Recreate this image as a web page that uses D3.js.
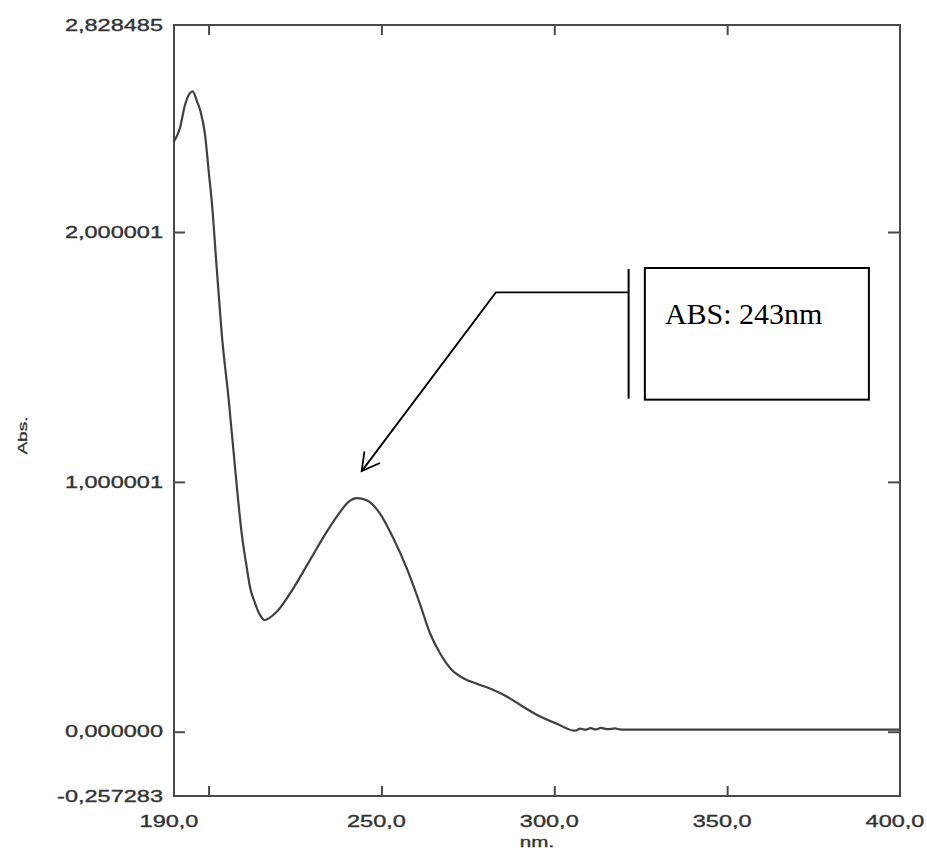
<!DOCTYPE html>
<html>
<head>
<meta charset="utf-8">
<script src="https://cdn.jsdelivr.net/npm/d3@7"></script>
<style>
  body { margin: 0; background: #fff; }
  svg { display: block; }
</style>
</head>
<body>
<div id="chart"></div>
<script>
// Data //
const wavelength = [190.0, 191.7, 193.2, 195.4, 196.65, 197.67, 198.97, 200.12, 200.91, 202.35, 203.8,
    205.85, 207.65, 209.58, 211.03, 211.98, 213.43, 214.88, 216.12, 219.71, 224.51, 229.34, 234.17,
    238.02, 240.42, 242.85, 245.74, 249.59, 253.44, 257.31, 261.16, 264.05, 266.94, 270.33, 273.68,
    277.56, 281.9, 286.24, 290.09, 294.92, 300.7, 306.0, 307.5, 309.0, 310.5, 312.0, 313.5, 315.5,
    317.5, 319.0, 320.0, 400.0];
const absorbance = [2.363, 2.415, 2.51, 2.563, 2.523, 2.483, 2.391, 2.231, 2.124, 1.857, 1.593,
    1.325, 1.058, 0.794, 0.659, 0.579, 0.515, 0.467, 0.447, 0.48, 0.574, 0.687, 0.8,
    0.879, 0.919, 0.935, 0.926, 0.873, 0.774, 0.655, 0.511, 0.394, 0.314, 0.248, 0.214,
    0.192, 0.17, 0.141, 0.108, 0.068, 0.032, 0.004, 0.012, 0.008, 0.014, 0.009, 0.015, 0.01,
    0.013, 0.009, 0.008, 0.008];

const xLabelValues = [190, 250, 300, 350, 400];
const xLabels = ["190,0", "250,0", "300,0", "350,0", "400,0"];
const xTickMarks = [200, 250, 300, 350];

const yLabelValues = [2.828485, 2.000001, 1.000001, 0.0, -0.257283];
const yLabels = ["2,828485", "2,000001", "1,000001", "0,000000", "-0,257283"];
const yTickMarks = [0.0, 1.000001, 2.000001];

// annotation callout, in data units (nm, Abs.)
const arrowPath = [[244.3, 1.043], [283.1, 1.758], [321.5, 1.758]];
const calloutBar = [[321.5, 1.852], [321.5, 1.333]];
const calloutBox = [[326.2, 1.856], [391.0, 1.329]];
const calloutText = "ABS: 243nm";
const calloutTextPos = [332.0, 1.633];

/* Canvas */
const W = 927, H = 850;
const margin = { top: 25, right: 27, bottom: 54, left: 174 };
const width = W - margin.left - margin.right;
const height = H - margin.top - margin.bottom;
const sx = 1.47; // the old printout stretches its text sideways

const svg = d3.select("#chart").append("svg")
    .attr("width", W)
    .attr("height", H);

const g = svg.append("g")
    .attr("transform", `translate(${margin.left},${margin.top})`);

const x = d3.scaleLinear().domain([190, 400]).range([0, width]);
const y = d3.scaleLinear().domain([-0.257283, 2.828485]).range([height, 0]);

const frameColor = "#4a4a4a";
const textColor = "#333";

// Tick marks (inside, all four sides)
function styleAxis(sel) {
    sel.select(".domain").remove();
    sel.selectAll("line").attr("stroke", frameColor).attr("stroke-width", 2);
}
g.append("g").attr("transform", `translate(0,${height})`)
    .call(d3.axisBottom(x).tickValues(xTickMarks).tickSize(-10).tickFormat(""))
    .call(styleAxis);
g.append("g")
    .call(d3.axisTop(x).tickValues(xTickMarks).tickSize(-10).tickFormat(""))
    .call(styleAxis);
g.append("g")
    .call(d3.axisLeft(y).tickValues(yTickMarks).tickSize(-11).tickFormat(""))
    .call(styleAxis);
g.append("g").attr("transform", `translate(${width},0)`)
    .call(d3.axisRight(y).tickValues(yTickMarks).tickSize(-12).tickFormat(""))
    .call(styleAxis);

// Frame
g.append("rect")
    .attr("x", 0).attr("y", 0)
    .attr("width", width).attr("height", height)
    .attr("fill", "none")
    .attr("stroke", frameColor)
    .attr("stroke-width", 2);

// Tick labels
function labelStyle(sel, size) {
    sel.attr("font-family", "Liberation Sans, Arial, sans-serif")
        .attr("font-size", size)
        .attr("fill", textColor)
        .attr("stroke", textColor)
        .attr("stroke-width", 0.35);
}

g.selectAll(".ylab").data(yLabelValues).join("text")
    .attr("class", "ylab")
    .attr("transform", d => `translate(-11,${y(d)}) scale(${sx},1)`)
    .attr("dy", "0.36em")
    .attr("text-anchor", "end")
    .call(labelStyle, "16px")
    .text((d, i) => yLabels[i]);

g.selectAll(".xlab").data(xLabelValues).join("text")
    .attr("class", "xlab")
    .attr("transform", d => `translate(${x(d) - 5},${height + 31}) scale(${sx},1)`)
    .attr("text-anchor", "middle")
    .call(labelStyle, "16px")
    .text((d, i) => xLabels[i]);

// Axis titles
g.append("text")
    .attr("transform", `translate(${width / 2},${height + 51}) scale(${sx},1)`)
    .attr("text-anchor", "middle")
    .call(labelStyle, "14px")
    .text("nm.");

svg.append("text")
    .attr("transform", `translate(27,${margin.top + height / 2 + 25}) rotate(-90) scale(${sx},1)`)
    .attr("text-anchor", "middle")
    .call(labelStyle, "13px")
    .text("Abs.");

// Spectrum
const points = wavelength.map((w, i) => [w, absorbance[i]]);
const line = d3.line()
    .x(d => x(d[0]))
    .y(d => y(d[1]))
    .curve(d3.curveMonotoneX);

g.append("path")
    .datum(points)
    .attr("fill", "none")
    .attr("stroke", "#404040")
    .attr("stroke-width", 2.2)
    .attr("stroke-linejoin", "round")
    .attr("d", line);

// Callout
const tip = arrowPath[0];
const knee = arrowPath[1];
g.append("path")
    .datum(arrowPath)
    .attr("fill", "none")
    .attr("stroke", "#000")
    .attr("stroke-width", 1.8)
    .attr("d", d3.line().x(d => x(d[0])).y(d => y(d[1])));

// open arrow head
const ang = Math.atan2(y(knee[1]) - y(tip[1]), x(knee[0]) - x(tip[0]));
const headLen = 20, spread = 0.51;
const head = [
    [x(tip[0]) + headLen * Math.cos(ang - spread), y(tip[1]) + headLen * Math.sin(ang - spread)],
    [x(tip[0]), y(tip[1])],
    [x(tip[0]) + headLen * Math.cos(ang + spread), y(tip[1]) + headLen * Math.sin(ang + spread)]
];
g.append("path")
    .attr("d", d3.line()(head))
    .attr("fill", "none")
    .attr("stroke", "#000")
    .attr("stroke-width", 1.8);

g.append("line")
    .attr("x1", x(calloutBar[0][0])).attr("y1", y(calloutBar[0][1]))
    .attr("x2", x(calloutBar[1][0])).attr("y2", y(calloutBar[1][1]))
    .attr("stroke", "#000")
    .attr("stroke-width", 2);

g.append("rect")
    .attr("x", x(calloutBox[0][0]))
    .attr("y", y(calloutBox[0][1]))
    .attr("width", x(calloutBox[1][0]) - x(calloutBox[0][0]))
    .attr("height", y(calloutBox[1][1]) - y(calloutBox[0][1]))
    .attr("fill", "#fff")
    .attr("stroke", "#000")
    .attr("stroke-width", 2);

g.append("text")
    .attr("x", x(calloutTextPos[0]))
    .attr("y", y(calloutTextPos[1]))
    .attr("font-family", "Liberation Serif, Times New Roman, serif")
    .attr("font-size", "30px")
    .attr("fill", "#000")
    .text(calloutText);
</script>
</body>
</html>
